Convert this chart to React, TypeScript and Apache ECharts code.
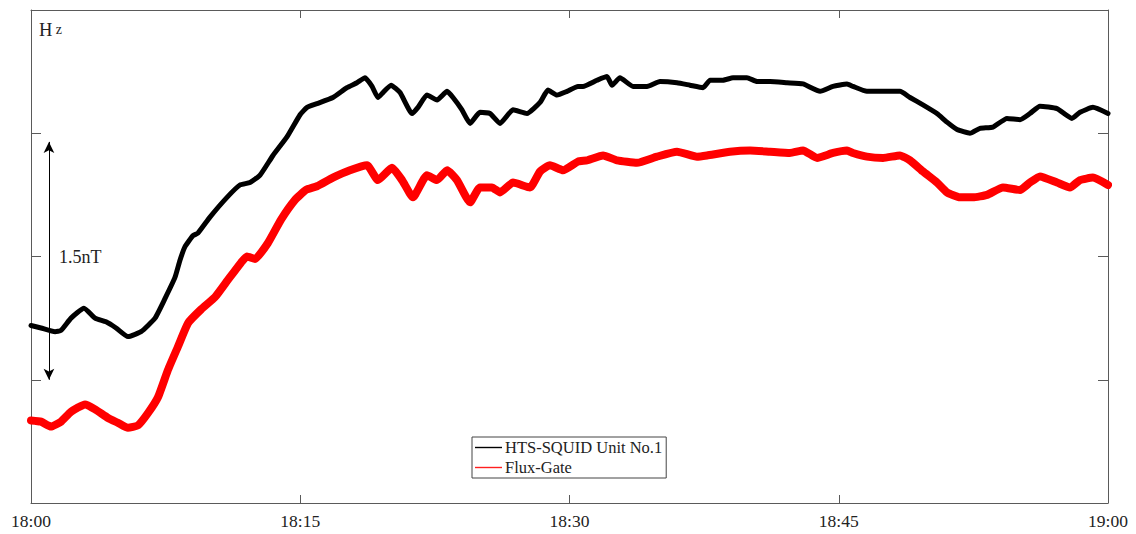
import React, { useEffect, useRef } from "react";
import * as echarts from "echarts";

// Minutes after 18:00 and field level (relative units, 4 units span the plot height)
const squidMinutes = [
  0, 0.56, 1.34, 1.67, 2.23, 2.95, 3.57, 4.18, 4.74, 5.4, 6.13, 6.91, 7.47, 8.02, 8.3, 8.58,
  9.03, 9.3, 9.97, 10.92, 11.64, 12.2, 12.76, 13.48, 14.26, 14.99, 15.38, 15.93, 16.82, 17.6,
  18.16, 18.61, 19.0, 19.33, 19.61, 20.06, 20.56, 21.23, 21.56, 22.06, 22.62, 23.18, 23.51,
  24.01, 24.46, 25.01, 25.57, 26.13, 26.85, 27.63, 28.36, 28.8, 29.3, 29.86, 30.47, 30.75,
  31.53, 32.09, 32.37, 32.81, 33.54, 34.32, 35.04, 35.99, 36.71, 37.44, 37.83, 38.55, 39.11,
  39.89, 40.45, 41.17, 42.12, 43.01, 43.96, 44.68, 45.46, 45.79, 46.57, 47.47, 48.41, 48.97,
  49.69, 50.47, 51.03, 51.59, 52.31, 52.87, 53.59, 54.37, 55.1, 55.65, 56.21, 57.16, 57.99,
  58.44, 59.16, 60,
];
const squidValues = [
  1.44, 1.42, 1.39, 1.4, 1.5, 1.58, 1.5, 1.47, 1.42, 1.35, 1.39, 1.5, 1.66, 1.83, 1.97, 2.08,
  2.17, 2.19, 2.32, 2.48, 2.58, 2.6, 2.66, 2.82, 2.97, 3.15, 3.21, 3.24, 3.29, 3.37,
  3.41, 3.45, 3.38, 3.29, 3.33, 3.39, 3.33, 3.16, 3.21, 3.31, 3.27, 3.34, 3.29,
  3.19, 3.08, 3.17, 3.16, 3.08, 3.19, 3.16, 3.25, 3.35, 3.31, 3.34, 3.38, 3.38,
  3.43, 3.46, 3.39, 3.45, 3.38, 3.38, 3.42, 3.41, 3.39, 3.37, 3.43, 3.43, 3.45,
  3.45, 3.42, 3.42, 3.41, 3.4, 3.34, 3.38, 3.4, 3.38, 3.34, 3.34, 3.34, 3.29,
  3.23, 3.16, 3.09, 3.03, 3.0, 3.04, 3.05, 3.12, 3.11, 3.16, 3.22, 3.2, 3.12,
  3.17, 3.21, 3.16,
];

const fluxMinutes = [
  0, 0.56, 1.11, 1.67, 2.23, 3.01, 3.57, 4.29, 4.85, 5.4, 5.96, 6.52, 7.08, 7.63, 8.19, 8.75,
  9.47, 10.25, 10.97, 11.7, 12.03, 12.48, 13.2, 13.93, 14.71, 15.32, 15.93, 16.82, 17.77,
  18.72, 19.33, 20.11, 20.67, 21.28, 22.06, 22.62, 23.18, 23.73, 24.46, 25.01, 25.68, 26.13,
  26.85, 27.8, 28.36, 28.91, 29.64, 30.47, 30.97, 31.87, 32.65, 33.76, 34.87, 35.99, 37.1,
  37.66, 38.94, 40.06, 41.17, 42.28, 43.01, 43.79, 44.68, 45.46, 45.79, 46.57, 47.47, 48.41,
  48.97, 49.69, 50.47, 51.03, 51.75, 52.48, 53.26, 54.15, 55.1, 55.65, 56.21, 57.16, 57.88,
  58.44, 59.16, 60,
];
const fluxValues = [
  0.67, 0.66, 0.62, 0.66, 0.74, 0.8, 0.76, 0.69, 0.65, 0.61, 0.63, 0.73, 0.86, 1.08, 1.27, 1.46,
  1.57, 1.67, 1.81, 1.95, 2.0, 1.98, 2.11, 2.3, 2.46, 2.54, 2.57, 2.64, 2.7,
  2.74, 2.62, 2.72, 2.62, 2.48, 2.66, 2.62, 2.7, 2.62, 2.44, 2.56, 2.56, 2.52,
  2.6, 2.56, 2.69, 2.74, 2.7, 2.77, 2.78, 2.82, 2.78, 2.76, 2.81, 2.85, 2.81,
  2.82, 2.85, 2.86, 2.85, 2.84, 2.86, 2.8, 2.84, 2.86, 2.84, 2.81, 2.8, 2.82,
  2.78, 2.69, 2.6, 2.52, 2.48, 2.48, 2.5, 2.56, 2.54, 2.6, 2.65, 2.6, 2.56,
  2.62, 2.64, 2.58,
];

// Scale bar: 1.5 nT between these two levels, drawn at 18:01
const scaleBarMinute = 1.0;
const scaleBarLevels = [1.0, 2.93];

const timeTicks = [0, 15, 30, 45, 60];

const SERIF = "'Liberation Serif', 'Times New Roman', serif";
const AXIS_COLOR = "#5a5a5a";
const TEXT_COLOR = "#222";
const LEGEND_LINE = "path://M0,0 L27,0 L27,1.4 L0,1.4 Z";

function pairs(xs: number[], ys: number[]) {
  return xs.map((x, i) => [x, ys[i]]);
}

function timeLabel(v: number) {
  const h = 18 + Math.floor(v / 60);
  const m = v % 60;
  return `${h}:${m < 10 ? "0" + m : m}`;
}

export default function App() {
  const ref = useRef<HTMLDivElement>(null);

  useEffect(() => {
    if (!ref.current) return;
    const chart = echarts.init(ref.current, undefined, { renderer: "svg" });

    const xBase = {
      type: "value" as const,
      min: timeTicks[0],
      max: timeTicks[timeTicks.length - 1],
      interval: 15,
      axisLine: { show: true, onZero: false, lineStyle: { color: AXIS_COLOR, width: 1 } },
      axisTick: { show: true, inside: true, length: 8, lineStyle: { color: AXIS_COLOR } },
      splitLine: { show: false },
    };
    const yBase = {
      type: "value" as const,
      min: 0,
      max: 4,
      interval: 1,
      axisLine: { show: true, onZero: false, lineStyle: { color: AXIS_COLOR, width: 1 } },
      axisTick: { show: true, inside: true, length: 10, lineStyle: { color: AXIS_COLOR } },
      axisLabel: { show: false },
      splitLine: { show: false },
    };

    chart.setOption({
      animation: false,
      backgroundColor: "#fff",
      textStyle: { fontFamily: SERIF },
      grid: { left: 31, right: 28, top: 10, bottom: 31, containLabel: false },
      xAxis: [
        {
          ...xBase,
          position: "bottom",
          axisLabel: {
            show: true,
            margin: 9,
            fontFamily: SERIF,
            fontSize: 17.5,
            color: TEXT_COLOR,
            formatter: (v: number) => timeLabel(v),
          },
        },
        { ...xBase, position: "top", axisLabel: { show: false } },
      ],
      yAxis: [
        { ...yBase, position: "left" },
        { ...yBase, position: "right" },
      ],
      legend: {
        orient: "vertical",
        left: 472,
        top: 437,
        padding: [2, 4, 2, 3],
        itemGap: 3,
        itemWidth: 27,
        itemHeight: 14,
        borderColor: "#444",
        borderWidth: 1,
        backgroundColor: "#fff",
        textStyle: { fontFamily: SERIF, fontSize: 16.5, color: TEXT_COLOR, padding: [0, 0, 0, -2] },
        data: [
          { name: "HTS-SQUID Unit No.1", icon: LEGEND_LINE, itemStyle: { color: "#000" } },
          { name: "Flux-Gate", icon: LEGEND_LINE, itemStyle: { color: "#ff2020" } },
        ],
      },
      series: [
        {
          name: "Flux-Gate",
          type: "line",
          symbol: "none",
          smooth: 0.15,
          data: pairs(fluxMinutes, fluxValues),
          lineStyle: { color: "#ff0000", width: 8, join: "round", cap: "round" },
          itemStyle: { color: "#ff0000" },
          z: 2,
        },
        {
          name: "HTS-SQUID Unit No.1",
          type: "line",
          symbol: "none",
          smooth: 0.15,
          data: pairs(squidMinutes, squidValues),
          lineStyle: { color: "#000", width: 5, join: "round", cap: "round" },
          itemStyle: { color: "#000" },
          z: 3,
          markLine: {
            silent: true,
            symbol: ["arrow", "arrow"],
            symbolSize: [8, 11],
            lineStyle: { color: "#000", width: 1, type: "solid" },
            label: { show: false },
            data: [
              [
                { coord: [scaleBarMinute, scaleBarLevels[1]] },
                { coord: [scaleBarMinute, scaleBarLevels[0]] },
              ],
            ],
          },
        },
      ],
      graphic: [
        {
          type: "text",
          left: 39,
          top: 20,
          style: {
            text: "{h|H} {z|z}",
            rich: {
              h: { fontFamily: SERIF, fontSize: 18.5, fill: TEXT_COLOR },
              z: { fontFamily: SERIF, fontSize: 14, fill: TEXT_COLOR },
            },
          },
        },
        {
          type: "text",
          left: 59,
          top: 248,
          style: { text: "1.5nT", fontFamily: SERIF, fontSize: 18, fill: TEXT_COLOR },
        },
      ],
    });

    return () => chart.dispose();
  }, []);

  return (
    <div
      ref={ref}
      style={{ position: "fixed", left: 0, top: 0, width: 1136, height: 534, background: "#fff" }}
    />
  );
}
